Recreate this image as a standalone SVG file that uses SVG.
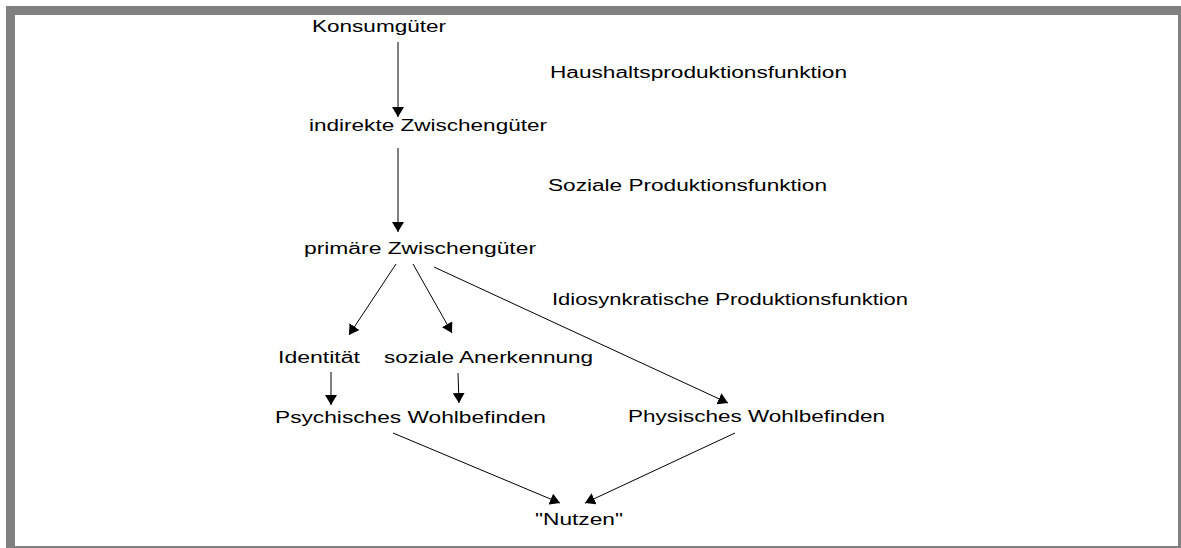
<svg xmlns="http://www.w3.org/2000/svg" width="1181" height="548" viewBox="0 0 1181 548">
<defs>
<style>
text{font-family:"Liberation Sans",Arial,sans-serif;font-size:16px;fill:#000}
.c{stroke:#000;stroke-width:1;fill:none;marker-end:url(#ah)}
</style>
<marker id="ah" viewBox="0 0 10 12" refX="10" refY="6" markerWidth="10" markerHeight="12" markerUnits="userSpaceOnUse" orient="auto">
<path d="M0,0 L10,6 L0,12 z" fill="#000"/>
</marker>
</defs>
<rect x="0" y="0" width="1181" height="548" fill="#fff"/>
<rect x="6" y="6" width="1175" height="542" fill="#808080"/>
<rect x="15" y="15" width="1163" height="531" fill="#fff"/>
<g id="connectors">
<line class="c" x1="398" y1="42" x2="398" y2="117"/>
<line class="c" x1="398" y1="148" x2="398" y2="232"/>
<line class="c" x1="396" y1="264" x2="349" y2="335"/>
<line class="c" x1="413" y1="264" x2="452" y2="333"/>
<line class="c" x1="434" y1="267" x2="728" y2="403"/>
<line class="c" x1="331" y1="372" x2="331" y2="405"/>
<line class="c" x1="458" y1="373" x2="459" y2="403"/>
<line class="c" x1="393" y1="433" x2="560" y2="503"/>
<line class="c" x1="735" y1="433" x2="585" y2="503"/>
</g>
<g id="konsumgueter"><text x="312" y="32" textLength="134" lengthAdjust="spacingAndGlyphs">Konsumgüter</text></g>
<g id="indirekte"><text x="309" y="131" textLength="238" lengthAdjust="spacingAndGlyphs">indirekte Zwischengüter</text></g>
<g id="primaere"><text x="304" y="254" textLength="232" lengthAdjust="spacingAndGlyphs">primäre Zwischengüter</text></g>
<g id="label-haushalt"><text x="550" y="78" textLength="297" lengthAdjust="spacingAndGlyphs">Haushaltsproduktionsfunktion</text></g>
<g id="label-sozial"><text x="548" y="191" textLength="279" lengthAdjust="spacingAndGlyphs">Soziale Produktionsfunktion</text></g>
<g id="label-idio"><text x="552" y="305" textLength="356" lengthAdjust="spacingAndGlyphs">Idiosynkratische Produktionsfunktion</text></g>
<g id="identitaet"><text x="278" y="363" textLength="82" lengthAdjust="spacingAndGlyphs">Identität</text></g>
<g id="anerkennung"><text x="384" y="363" textLength="209" lengthAdjust="spacingAndGlyphs">soziale Anerkennung</text></g>
<g id="psychisch"><text x="275" y="423" textLength="271" lengthAdjust="spacingAndGlyphs">Psychisches Wohlbefinden</text></g>
<g id="physisch"><text x="628" y="422" textLength="257" lengthAdjust="spacingAndGlyphs">Physisches Wohlbefinden</text></g>
<g id="nutzen"><text x="535" y="525" textLength="88" lengthAdjust="spacingAndGlyphs">"Nutzen"</text></g>
</svg>
